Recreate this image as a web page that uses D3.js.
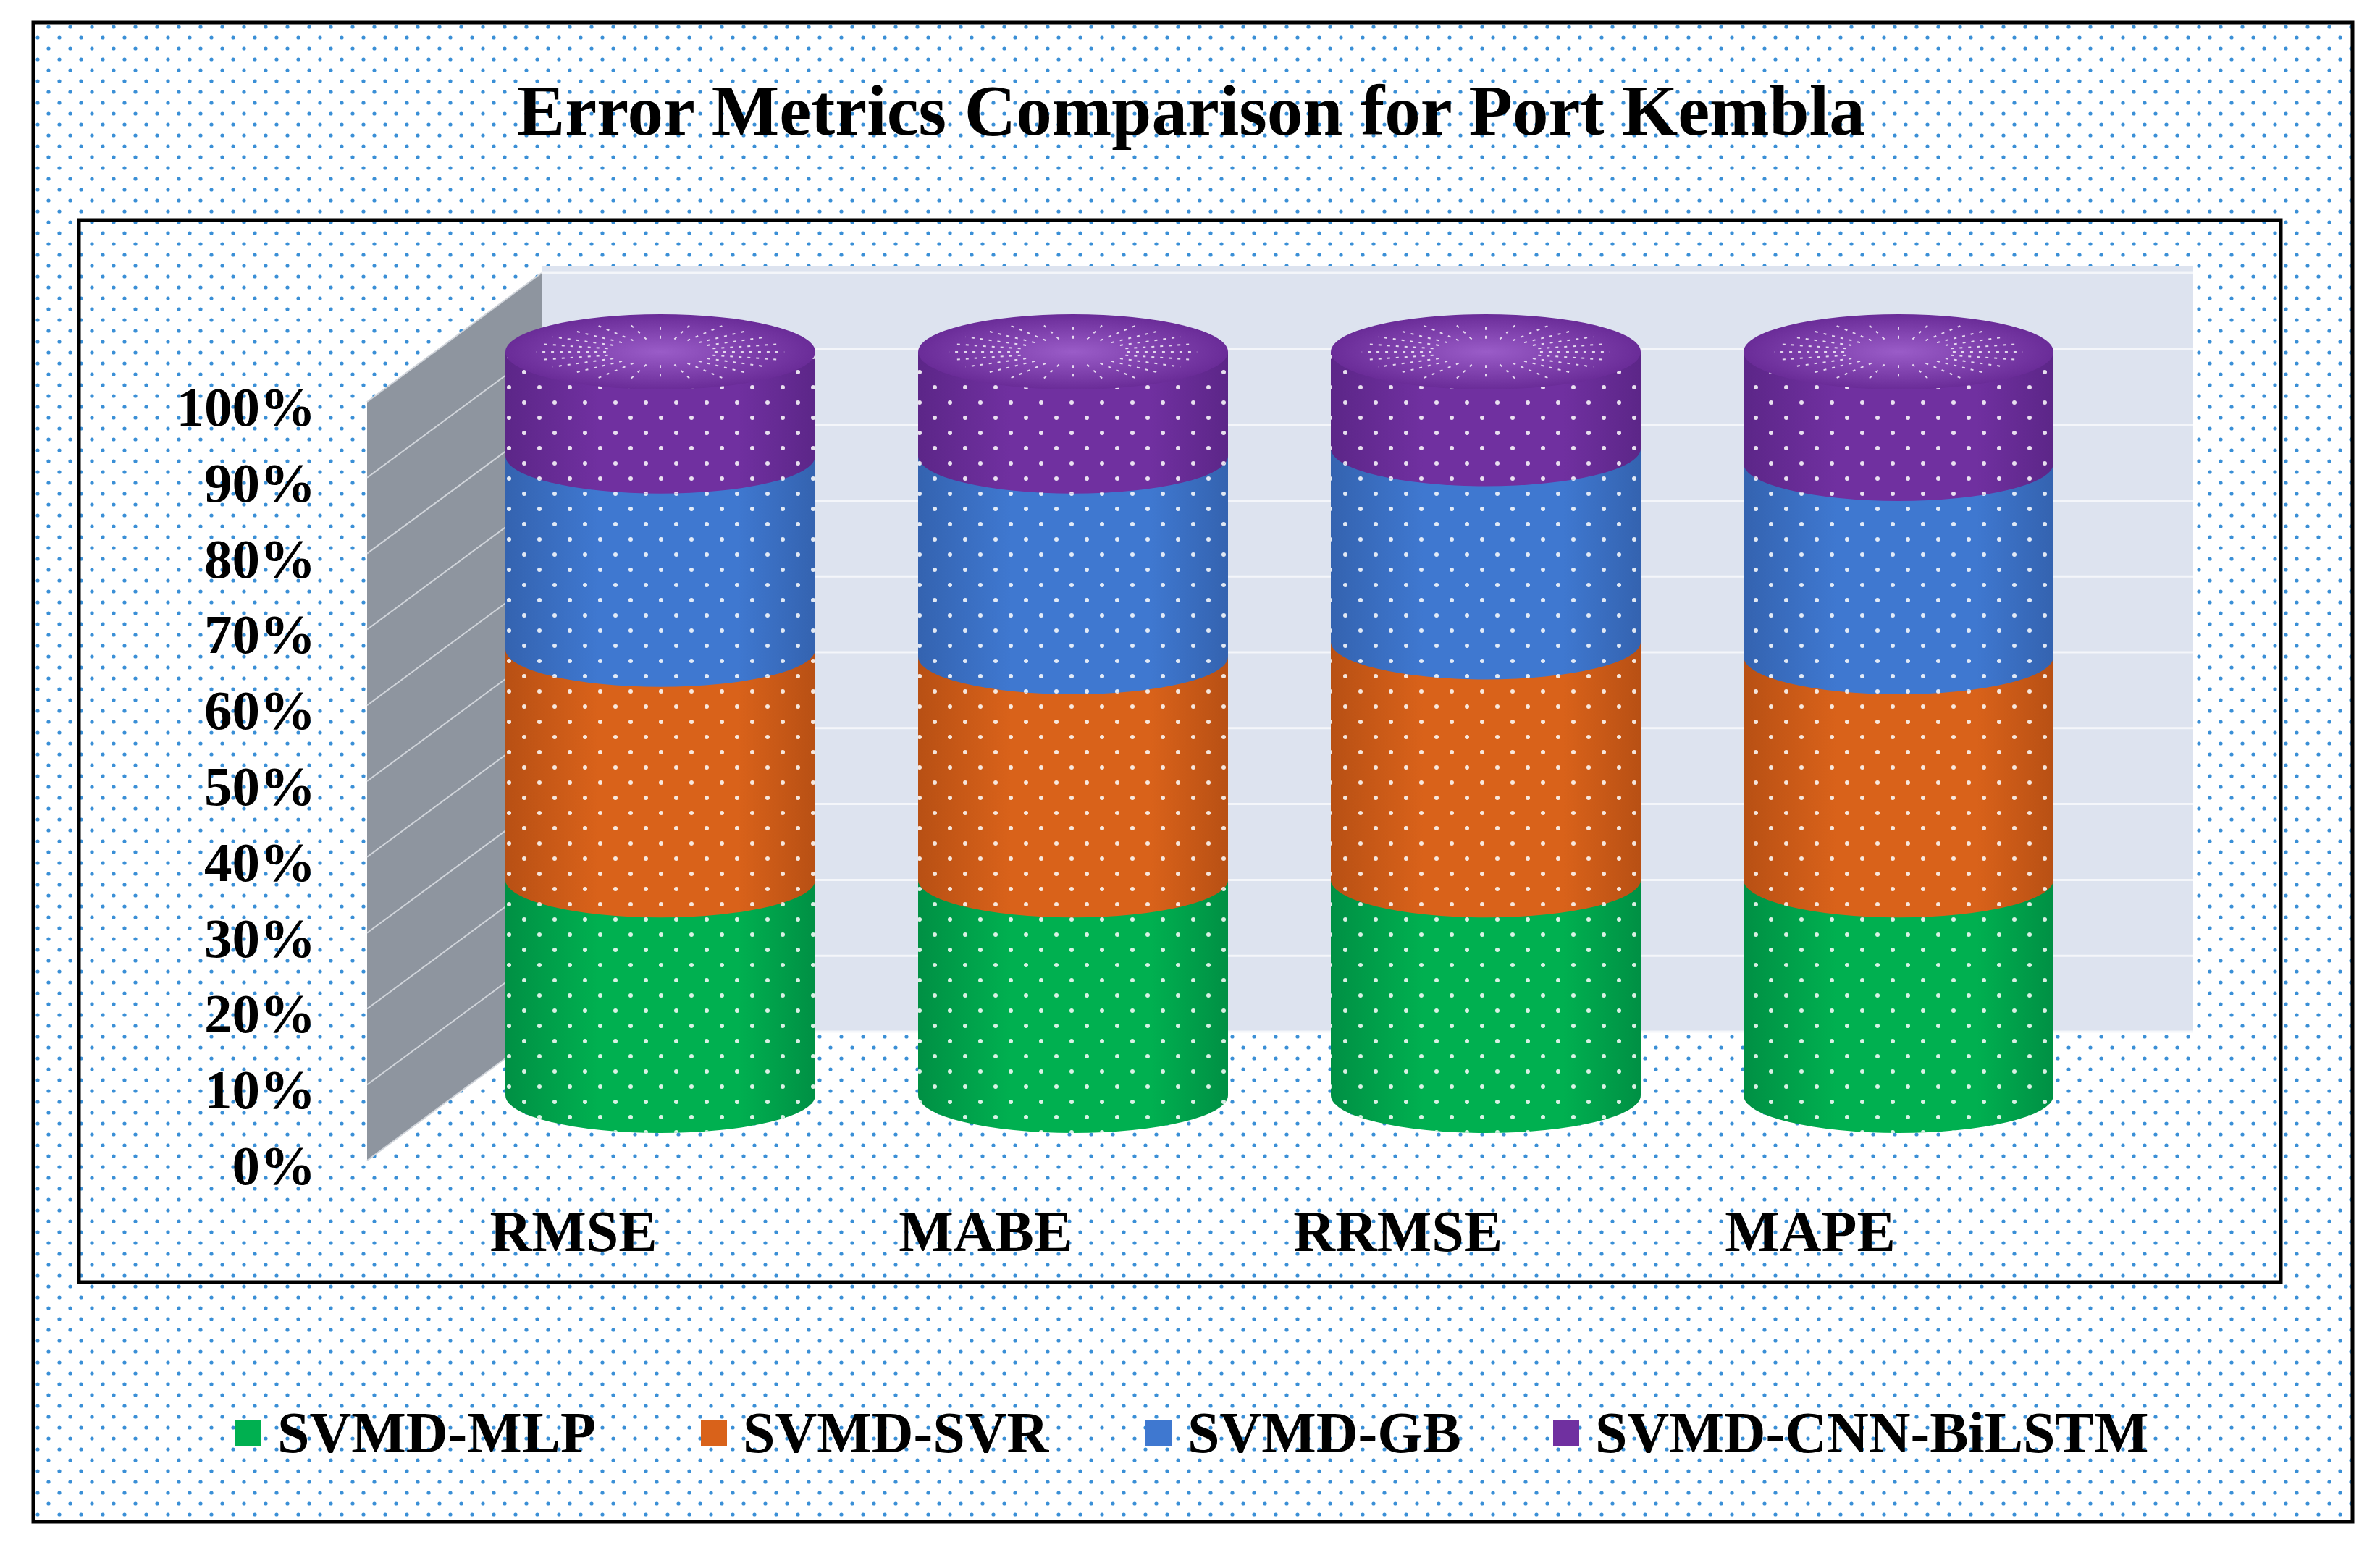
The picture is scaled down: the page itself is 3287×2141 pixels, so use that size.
<!DOCTYPE html>
<html><head><meta charset="utf-8">
<script src="https://cdn.jsdelivr.net/npm/d3@7"></script>
<style>body{margin:0;background:#fff}</style>
</head><body>
<script>
const categories = ["RMSE","MABE","RRMSE","MAPE"];
const seriesNames = ["SVMD-MLP","SVMD-SVR","SVMD-GB","SVMD-CNN-BiLSTM"];
const mlp   = [29,29,29,29];
const svr   = [31,30,32,30];
const gb    = [26,27,26,26];
const cnn   = [14,14,13,15];
const yTicks = [0,10,20,30,40,50,60,70,80,90,100];
const colors = ["#00b050","#d9621a","#3f78d0","#7030a0"];
const darks  = ["#009044","#b85014","#3463b0","#5c2688"];

const W=3287,H=2141;
const svg=d3.select("body").append("svg").attr("width",W).attr("height",H);
const defs=svg.append("defs");
const bp=defs.append("pattern").attr("id","bgdots").attr("width",30).attr("height",30).attr("patternUnits","userSpaceOnUse");
bp.append("circle").attr("cx",7).attr("cy",7).attr("r",2.6).attr("fill","#3a8fd6");
bp.append("circle").attr("cx",22).attr("cy",22).attr("r",2.6).attr("fill","#3a8fd6");
const wp=defs.append("pattern").attr("id","wdots").attr("width",42).attr("height",42).attr("patternUnits","userSpaceOnUse");
wp.append("circle").attr("cx",10).attr("cy",10).attr("r",3).attr("fill","#fff").attr("opacity",0.85);
wp.append("circle").attr("cx",31).attr("cy",31).attr("r",3).attr("fill","#fff").attr("opacity",0.85);
colors.forEach((c,i)=>{
  const g=defs.append("linearGradient").attr("id","g"+i);
  g.append("stop").attr("offset","0%").attr("stop-color",darks[i]);
  g.append("stop").attr("offset","30%").attr("stop-color",c);
  g.append("stop").attr("offset","75%").attr("stop-color",c);
  g.append("stop").attr("offset","100%").attr("stop-color",darks[i]);
});
const rg=defs.append("radialGradient").attr("id","cap");
rg.append("stop").attr("offset","0%").attr("stop-color","#9a5cc8");
rg.append("stop").attr("offset","100%").attr("stop-color","#6a2c98");

svg.append("rect").attr("width",W).attr("height",H).attr("fill","#fff");
svg.append("rect").attr("x",46).attr("y",31).attr("width",3203).attr("height",2071).attr("fill","url(#bgdots)").attr("stroke","#000").attr("stroke-width",5);
svg.append("text").attr("x",1645).attr("y",186).attr("text-anchor","middle").attr("font-family","Liberation Serif").attr("font-weight","bold").attr("font-size",99).text("Error Metrics Comparison for Port Kembla");
svg.append("rect").attr("x",109).attr("y",304).attr("width",3041).attr("height",1467).attr("fill","none").attr("stroke","#000").attr("stroke-width",5);

const wallY=d3.scaleLinear().domain([0,100]).range([1425,377]);
svg.append("rect").attr("x",748).attr("y",367).attr("width",2281).attr("height",1058).attr("fill","#dde3ef");
svg.selectAll(".gl").data(yTicks).join("line").attr("x1",748).attr("x2",3029).attr("y1",d=>wallY(d)).attr("y2",d=>wallY(d)).attr("stroke","#f4f6fa").attr("stroke-width",3);
svg.append("path").attr("d","M507,555 L748,377 L748,1425 L507,1603 Z").attr("fill","#8e959f");
svg.selectAll(".sl").data(yTicks).join("line").attr("x1",507).attr("x2",748).attr("y1",d=>wallY(d)+178).attr("y2",d=>wallY(d)).attr("stroke","#d0d4da").attr("stroke-width",2);

const yLab=d3.scaleLinear().domain([0,100]).range([1610,562]);
svg.selectAll(".yl").data(yTicks).join("text").attr("x",436).attr("y",d=>yLab(d)+26).attr("text-anchor","end")
 .attr("font-family","Liberation Serif").attr("font-weight","bold").attr("font-size",77).text(d=>d+"%");

const xC=d3.scalePoint().domain(categories).range([912,2622]);
const xL=d3.scalePoint().domain(categories).range([792,2500]);
svg.selectAll(".xl").data(categories).join("text").attr("x",d=>xL(d)).attr("y",1728).attr("text-anchor","middle")
 .attr("font-family","Liberation Serif").attr("font-weight","bold").attr("font-size",80).text(d=>d);

const y=d3.scaleLinear().domain([0,100]).range([1513,486]);
const rx=214,ry=52;
const stack=d3.stack().keys([0,1,2,3])(categories.map((c,i)=>[mlp[i],svr[i],gb[i],cnn[i]]));
function seg(cx,y0,y1){
  return `M${cx-rx},${y1} L${cx-rx},${y0} A${rx},${ry} 0 0 0 ${cx+rx},${y0} L${cx+rx},${y1} Z`;
}
categories.forEach((c,ci)=>{
  const cx=xC(c);
  stack.forEach((s,si)=>{
    const d=seg(cx,y(s[ci][0]),y(s[ci][1]));
    svg.append("path").attr("d",d).attr("fill",`url(#g${si})`);
    svg.append("path").attr("d",d).attr("fill","url(#wdots)");
  });
  const top=y(100);
  svg.append("ellipse").attr("cx",cx).attr("cy",top).attr("rx",rx).attr("ry",ry).attr("fill","url(#cap)");
  for(let a=0;a<24;a++){const t=a/24*2*Math.PI;
    svg.append("line").attr("x1",cx+Math.cos(t)*rx*0.35).attr("y1",top+Math.sin(t)*ry*0.35).attr("x2",cx+Math.cos(t)*rx*0.8).attr("y2",top+Math.sin(t)*ry*0.8).attr("stroke","#fff").attr("stroke-width",2).attr("stroke-dasharray","4,8").attr("opacity",0.8);}
});

const lx=[325,968,1582,2145];
seriesNames.forEach((n,i)=>{
  svg.append("rect").attr("x",lx[i]).attr("y",1962).attr("width",36).attr("height",36).attr("fill",colors[i]);
  svg.append("text").attr("x",lx[i]+58).attr("y",2006).attr("font-family","Liberation Serif").attr("font-weight","bold").attr("font-size",80).text(n);
});
</script>
</body></html>
